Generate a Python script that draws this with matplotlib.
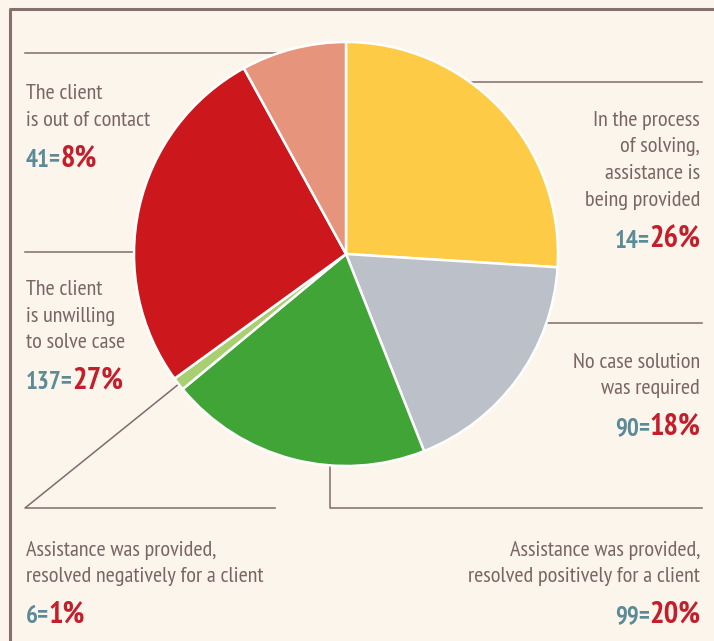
import matplotlib
matplotlib.use("Agg")
import matplotlib.pyplot as plt

# データ（時計回り、上から）
labels = [
    ["In the process", "of solving,", "assistance is", "being provided"],
    ["No case solution", "was required"],
    ["Assistance was provided,", "resolved positively for a client"],
    ["Assistance was provided,", "resolved negatively for a client"],
    ["The client", "is unwilling", "to solve case"],
    ["The client", "is out of contact"],
]
counts = [14, 90, 99, 6, 137, 41]
percents = [26, 18, 20, 1, 27, 8]
colors = ["#FECB47", "#BBC0C9", "#40A536", "#A9CF73", "#CC171C", "#E6957C"]

BG = "#FCF5EC"
LINE = "#7F6B6B"
TXT = "#7A6565"
NUM = "#5B8A98"
PCT = "#C41E2B"

plt.rcParams["font.family"] = ["PT Sans Narrow", "Roboto Condensed", "DejaVu Sans"]

W, H = 714, 641


def Y(py):
    return H - py


fig = plt.figure(figsize=(W / 100, H / 100), dpi=100, facecolor=BG)
ax = fig.add_axes([0, 0, 1, 1])
ax.set_facecolor(BG)

ax.pie(percents, colors=colors, startangle=90, counterclock=False,
       center=(346, Y(254)), radius=212, frame=False,
       wedgeprops=dict(edgecolor="white", linewidth=1.8))
ax.set_xlim(0, W)
ax.set_ylim(0, H)
ax.set_aspect("equal")
ax.axis("off")

# 枠線
ax.plot([10, 10, W], [0, Y(9), Y(9)], color="#857070", lw=2.2, zorder=0,
        solid_capstyle="butt")

# 引き出し線
leaders = [
    ([450, 702], [82, 82]),
    ([530, 702], [323, 323]),
    ([330, 330, 702], [440, 508, 508]),
    ([190, 25, 275], [375, 508, 508]),
    ([25, 150], [252, 252]),
    ([25, 290], [53, 53]),
]
for xs, ys in leaders:
    ax.plot(xs, [Y(v) for v in ys], color=LINE, lw=1.1, zorder=0.5)

# ラベル配置 (x, 揃え, 1行目ベースライン, 数値ベースライン)
layout = [
    (700, "right", 126, 248),
    (700, "right", 368, 435),
    (700, "right", 556, 623),
    (26, "left", 556, 623),
    (26, "left", 295, 389),
    (26, "left", 99, 167),
]
LS = 26.5
GAP = 1

fig.canvas.draw()
renderer = fig.canvas.get_renderer()

for lines, cnt, pct, (x, ha, y0, yn) in zip(labels, counts, percents, layout):
    for i, s in enumerate(lines):
        ax.text(x, Y(y0 + i * LS), s, ha=ha, va="baseline",
                fontsize=16, color=TXT)
    if ha == "left":
        t = ax.text(x, Y(yn), f"{cnt}=", ha="left", va="baseline",
                    fontsize=18, fontweight="bold", color=NUM)
        w = t.get_window_extent(renderer).width
        ax.text(x + w - GAP, Y(yn), f"{pct}%", ha="left", va="baseline",
                fontsize=22, fontweight="bold", color=PCT)
    else:
        t = ax.text(x, Y(yn), f"{pct}%", ha="right", va="baseline",
                    fontsize=22, fontweight="bold", color=PCT)
        w = t.get_window_extent(renderer).width
        ax.text(x - w + GAP, Y(yn), f"{cnt}=", ha="right", va="baseline",
                fontsize=18, fontweight="bold", color=NUM)

fig.savefig("out.png", dpi=100, facecolor=BG)
plt.close()
